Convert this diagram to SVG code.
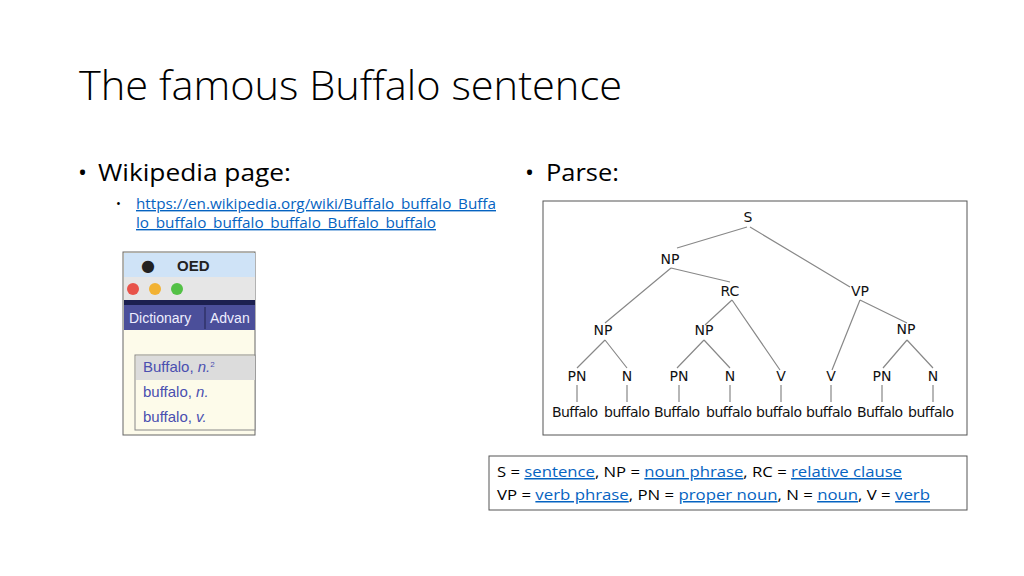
<svg xmlns="http://www.w3.org/2000/svg" width="1024" height="576" viewBox="0 0 1024 576">
<style>
.t{font-family:"Liberation Sans",Arial,sans-serif;fill:#000}
.c{font-family:"Open Sans","Liberation Sans",sans-serif;fill:#000}
.lk{fill:#0563C1;text-decoration:underline}
.tr{font-family:"DejaVu Sans","Liberation Sans",sans-serif;font-size:14px;text-anchor:middle;fill:#111}
.e{stroke:#888;stroke-width:1.2;fill:none}
.oed{font-family:"Liberation Sans",Arial,sans-serif;font-size:15px;fill:#4a4fb0}
</style>
<rect width="1024" height="576" fill="#fff"/>
<text class="c" x="79" y="100" font-size="40" textLength="543" lengthAdjust="spacingAndGlyphs" fill="#262626" font-weight="300">The famous Buffalo sentence</text>
<g id="bullets">
<text class="c" x="78" y="181" font-size="24">•</text>
<text class="c" x="98" y="181" font-size="24" textLength="193" lengthAdjust="spacingAndGlyphs">Wikipedia page:</text>
<text class="c" x="116" y="208" font-size="13">•</text>
<text class="c lk" x="136" y="209" font-size="14" textLength="360" lengthAdjust="spacingAndGlyphs">https://en.wikipedia.org/wiki/Buffalo_buffalo_Buffa</text>
<text class="c lk" x="136" y="228" font-size="14" textLength="300" lengthAdjust="spacingAndGlyphs">lo_buffalo_buffalo_buffalo_Buffalo_buffalo</text>
<text class="c" x="525" y="181" font-size="24">•</text>
<text class="c" x="546" y="181" font-size="24" textLength="73" lengthAdjust="spacingAndGlyphs">Parse:</text>
</g>
<g id="oed">
<rect x="123" y="252" width="132" height="183" fill="#fdfbea" stroke="#666"/>
<rect x="124" y="253" width="131" height="24" fill="#cfe3f7"/>
<text x="148" y="271" font-family="DejaVu Sans,sans-serif" font-size="16" text-anchor="middle" fill="#222">●</text>
<text x="177" y="271" font-family="Liberation Sans,sans-serif" font-weight="bold" font-size="15" fill="#222">OED</text>
<rect x="124" y="277" width="131" height="23" fill="#e6e6e6"/>
<circle cx="133" cy="289" r="6" fill="#e8534a"/>
<circle cx="155" cy="289" r="6" fill="#f2b233"/>
<circle cx="177" cy="289" r="6" fill="#53c146"/>
<rect x="124" y="300" width="131" height="5" fill="#1c2050"/>
<rect x="124" y="305" width="131" height="25" fill="#4b4f9a"/>
<line x1="205" y1="307" x2="205" y2="329" stroke="#22254f"/>
<text x="129" y="323" font-family="Liberation Sans,sans-serif" font-size="14" fill="#eef">Dictionary</text>
<text x="210" y="323" font-family="Liberation Sans,sans-serif" font-size="14" fill="#eef">Advan</text>
<rect x="135" y="355" width="120" height="75" fill="#fdfbea" stroke="#888"/>
<rect x="136" y="356" width="119" height="24" fill="#dcdcdc"/>
<text class="oed" x="143" y="372">Buffalo, <tspan font-style="italic">n.</tspan><tspan font-size="8" dy="-5">2</tspan></text>
<text class="oed" x="143" y="397">buffalo, <tspan font-style="italic">n.</tspan></text>
<text class="oed" x="143" y="422">buffalo, <tspan font-style="italic">v.</tspan></text>
</g>
<rect x="543" y="201" width="424" height="234" fill="#fff" stroke="#555"/>
<g id="edges">
<path class="e" d="M747 227L677 248M750 227L850 287M671 268L605 323M671 268L730 282M732 300L705 325M732 300L780 370M704 340L677 368M704 340L730 368M605 340L577 368M605 340L627 368M860 300L832 370M860 300L907 323M907 340L883 368M907 340L933 368"/>
<path class="e" d="M577 385V402M627 385V402M679 385V402M730 385V402M781 385V402M831 385V402M882 385V402M933 385V402"/>
</g>
<g id="nodes">
<text id="S" class="tr" x="748" y="222">S</text>
<text id="NP1" class="tr" x="670" y="264">NP</text>
<text id="RC" class="tr" x="730" y="296">RC</text>
<text id="VP" class="tr" x="860" y="296">VP</text>
<text id="NP2" class="tr" x="603" y="335">NP</text>
<text id="NP3" class="tr" x="704" y="335">NP</text>
<text id="NP4" class="tr" x="906" y="334">NP</text>
<text class="tr" x="577" y="381">PN</text>
<text class="tr" x="627" y="381">N</text>
<text class="tr" x="679" y="381">PN</text>
<text class="tr" x="730" y="381">N</text>
<text class="tr" x="781" y="381">V</text>
<text class="tr" x="831" y="381">V</text>
<text class="tr" x="882" y="381">PN</text>
<text class="tr" x="933" y="381">N</text>
<text class="tr" x="575" y="417" textLength="46">Buffalo</text>
<text class="tr" x="627" y="417" textLength="46">buffalo</text>
<text class="tr" x="677" y="417" textLength="46">Buffalo</text>
<text class="tr" x="729" y="417" textLength="46">buffalo</text>
<text class="tr" x="779" y="417" textLength="46">buffalo</text>
<text class="tr" x="829" y="417" textLength="46">buffalo</text>
<text class="tr" x="880" y="417" textLength="46">Buffalo</text>
<text class="tr" x="931" y="417" textLength="46">buffalo</text>
</g>
<g id="legend">
<rect x="489" y="456" width="478" height="54" fill="#fff" stroke="#555"/>
<text class="c" x="497" y="477" font-size="15" textLength="405" lengthAdjust="spacingAndGlyphs">S = <tspan class="lk">sentence</tspan>, NP = <tspan class="lk">noun phrase</tspan>, RC = <tspan class="lk">relative clause</tspan></text>
<text class="c" x="497" y="500" font-size="15" textLength="433" lengthAdjust="spacingAndGlyphs">VP = <tspan class="lk">verb phrase</tspan>, PN = <tspan class="lk">proper noun</tspan>, N = <tspan class="lk">noun</tspan>, V = <tspan class="lk">verb</tspan></text>
</g>
</svg>
